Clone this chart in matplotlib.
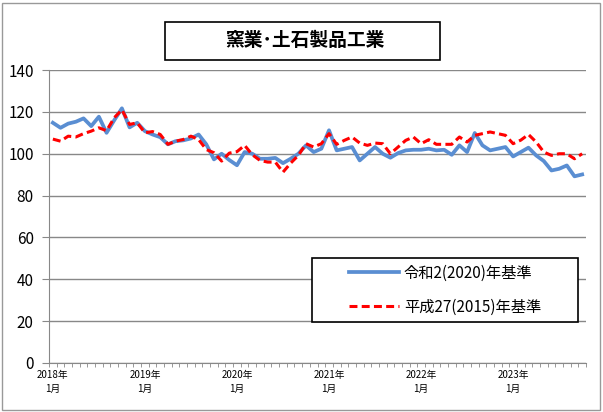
import numpy as np
import matplotlib
matplotlib.use("Agg")
import matplotlib.pyplot as plt
from matplotlib.patches import Rectangle

plt.rcParams["font.family"] = ["Noto Sans CJK JP", "DejaVu Sans"]

# monthly index, 2018/1 .. 2023/10
years = [2018, 2019, 2020, 2021, 2022, 2023]
tick_labels = [f"{y}年\n1月" for y in years]

reiwa2 = [
    114.8, 112.4, 114.4, 115.3, 116.9, 113.2, 117.7, 110.0, 116.0, 121.7, 112.6, 114.8,
    110.8, 109.2, 107.9, 104.5, 106.0, 106.4, 107.3, 109.2, 104.5, 97.3, 100.0, 97.0,
    94.5, 100.8, 100.0, 97.6, 97.6, 98.0, 95.5, 97.6, 100.0, 104.0, 100.8, 102.4,
    111.2, 101.6, 102.4, 103.2, 96.8, 100.0, 103.2, 100.0, 98.1, 100.3, 101.6, 101.9,
    101.9, 102.4, 101.6, 101.9, 99.5, 104.0, 100.8, 109.9, 104.0, 101.6, 102.4, 103.2,
    98.7, 100.8, 102.9, 99.2, 96.5, 92.0, 92.8, 94.4, 89.2, 90.1,
]
heisei27 = [
    107.0, 106.0, 108.4, 108.0, 109.6, 110.8, 112.4, 111.0, 117.2, 121.0, 114.0, 114.8,
    110.0, 110.6, 109.2, 104.5, 106.0, 106.8, 108.4, 106.8, 102.0, 100.5, 96.5, 100.3,
    101.0, 104.0, 99.5, 96.8, 96.0, 96.0, 91.2, 95.5, 99.2, 104.8, 103.2, 104.8,
    109.6, 104.5, 106.4, 108.0, 105.1, 104.0, 105.1, 104.8, 100.0, 103.2, 106.4, 108.0,
    104.8, 106.7, 104.5, 104.5, 104.5, 108.0, 105.6, 108.8, 109.6, 110.4, 109.6, 108.8,
    104.8, 106.5, 109.2, 105.6, 100.8, 99.2, 100.0, 100.0, 97.6, 100.0,
]

x = np.arange(len(reiwa2))

fig = plt.figure(figsize=(6.03, 4.12), dpi=100)
ax = fig.add_axes([0.0813, 0.119, 0.8905, 0.711])

ax.plot(x, reiwa2, color="#5A8ED2", lw=2.7, solid_joinstyle="round",
        label="令和2(2020)年基準")
ax.plot(x, heisei27, color="#FF0000", lw=2.2, linestyle=(0, (2.6, 1.4)),
        label="平成27(2015)年基準")

ax.set_ylim(0, 140)
ax.set_yticks(np.arange(0, 141, 20))
ax.set_xlim(-0.5, len(x) - 0.5)
ax.set_xticks([i * 12 for i in range(len(years))])
ax.set_xticklabels(tick_labels, fontsize=7, linespacing=1.5)
ax.set_xticks(np.arange(-0.5, len(x), 1), minor=True)
ax.tick_params(axis="x", which="major", length=0, pad=5)
ax.tick_params(axis="x", which="minor", length=3, color="#888888", direction="out")
ax.tick_params(axis="y", length=5, color="#888888", labelsize=11, pad=6)

ax.grid(axis="y", color="#888888", lw=1)
ax.set_axisbelow(True)
for s in ["top", "right"]:
    ax.spines[s].set_visible(False)
for s in ["left", "bottom"]:
    ax.spines[s].set_color("#888888")

# legend box (frame drawn separately so its size matches the original)
lx0, ly0, lw_, lh = (312 - 49) / 537, (363 - 322) / 293, 266 / 537, 64 / 293
ax.add_patch(Rectangle((lx0, ly0), lw_, lh, transform=ax.transAxes,
                       facecolor="white", edgecolor="black", lw=1.2, zorder=5))
leg = ax.legend(loc="center", bbox_to_anchor=(lx0 + lw_ / 2, ly0 + lh / 2),
                fontsize=11, frameon=False, handlelength=3.3,
                labelspacing=1.1, borderpad=0.2, handletextpad=0.3)
leg.set_zorder(6)

# title box
fig.patches.append(Rectangle((165 / 603, 1 - 60 / 412), 275 / 603, 38 / 412,
                             transform=fig.transFigure, fill=False,
                             edgecolor="black", lw=1.2))
fig.text(305 / 603, 1 - 41 / 412, "窯業･土石製品工業", ha="center", va="center",
         fontsize=13.5, fontweight="bold")

# outer frame
fig.patches.append(Rectangle((2 / 603, 2 / 412), 598 / 603, 407 / 412,
                             transform=fig.transFigure, fill=False,
                             edgecolor="#999999", lw=1))

fig.savefig("out.png", dpi=100)
